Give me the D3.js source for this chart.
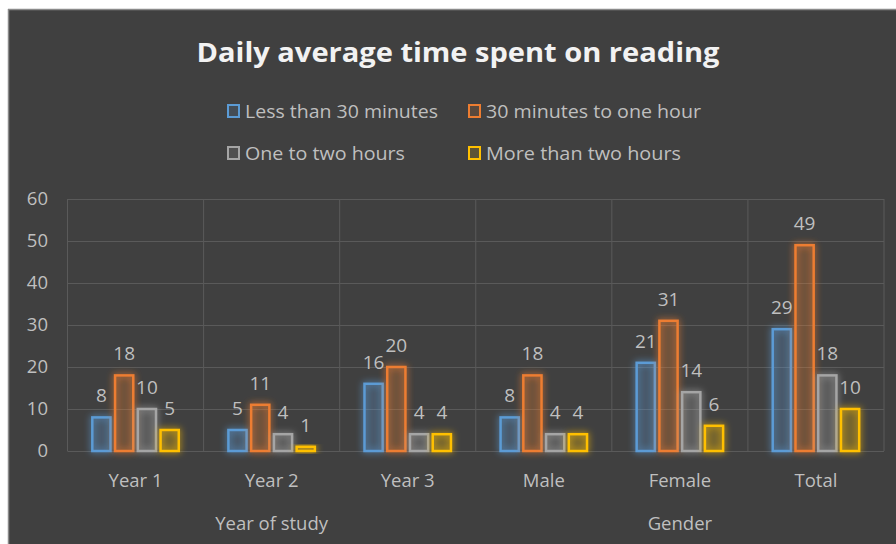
<!DOCTYPE html>
<html><head><meta charset="utf-8">
<script src="https://cdn.jsdelivr.net/npm/d3@7"></script>
<style>
html,body{margin:0;padding:0;background:#fff;}
svg{display:block;}
</style></head>
<body>
<svg id="c" width="896" height="544"></svg>
<script>
const categories = ["Year 1","Year 2","Year 3","Male","Female","Total"];
const groups = [{name:"Year of study", from:0, to:2},{name:"Gender", from:3, to:5}];
const seriesNames = ["Less than 30 minutes","30 minutes to one hour","One to two hours","More than two hours"];
const lessThan30 = [8,5,16,8,21,29];
const thirtyToHour = [18,11,20,18,31,49];
const oneToTwo = [10,4,4,4,14,18];
const moreThanTwo = [5,1,4,4,6,10];
const yTicks = [0,10,20,30,40,50,60];
const colors = ["#5b9bd5","#ed7d31","#a5a5a5","#ffc000"];
const series = [lessThan30, thirtyToHour, oneToTwo, moreThanTwo];

const svg = d3.select("#c");
const font = "'Open Sans', sans-serif";
const txt = "#bfbfbf";

// background frame
svg.append("rect").attr("x",8).attr("y",9).attr("width",888).attr("height",535).attr("fill","#404040");
svg.append("line").attr("x1",8).attr("x2",896).attr("y1",9.5).attr("y2",9.5).attr("stroke","#8a8a8a").attr("stroke-width",1.5);
svg.append("line").attr("x1",8.5).attr("x2",8.5).attr("y1",9).attr("y2",544).attr("stroke","#8a8a8a").attr("stroke-width",1.5);

const defs = svg.append("defs");
const f = defs.append("filter").attr("id","glow").attr("x","-50%").attr("y","-50%").attr("width","200%").attr("height","200%");
f.append("feGaussianBlur").attr("in","SourceGraphic").attr("stdDeviation",3.5).attr("result","b");
const m = f.append("feMerge");
m.append("feMergeNode").attr("in","b");
m.append("feMergeNode").attr("in","SourceGraphic");

const L = 67.5, R = 884, T = 199, B = 451;
const y = d3.scaleLinear().domain([0,60]).range([B,T]);
const x0 = d3.scaleBand().domain(categories).range([L,R]).padding(0);
const bw = x0.bandwidth();
const x1 = d3.scaleBand().domain(d3.range(4)).range([(bw-91)/2,(bw+91)/2]).paddingInner(0.2).paddingOuter(0.1);

// title
svg.append("text").attr("x",458).attr("y",62).attr("text-anchor","middle")
  .attr("font-family",font).attr("font-weight","bold").attr("font-size",26).attr("fill","#f2f2f2")
  .attr("textLength",523).attr("lengthAdjust","spacingAndGlyphs")
  .text("Daily average time spent on reading");

// legend
const legPos = [[227,111],[468,111],[227,153],[468,153]];
const legW = [193,215,160,195];
seriesNames.forEach((n,i)=>{
  const g = svg.append("g").attr("transform",`translate(${legPos[i][0]},${legPos[i][1]})`);
  g.append("rect").attr("x",1).attr("y",-6).attr("width",11).attr("height",12)
    .attr("fill",colors[i]).attr("fill-opacity",0.15).attr("stroke",colors[i]).attr("stroke-width",2);
  g.append("text").attr("x",18).attr("y",6.5).attr("font-family",font).attr("font-size",17.5).attr("fill",txt)
    .attr("textLength",legW[i]).attr("lengthAdjust","spacingAndGlyphs").text(n);
});

// gridlines
svg.append("g").selectAll("line").data(yTicks).join("line")
  .attr("x1",L).attr("x2",R).attr("y1",d=>Math.round(y(d))+0.5).attr("y2",d=>Math.round(y(d))+0.5)
  .attr("stroke","#5a5a5a").attr("stroke-width",1);
const bounds = categories.map(c=>x0(c)).concat([R]);
svg.append("g").selectAll("line").data(bounds).join("line")
  .attr("x1",d=>d).attr("x2",d=>d).attr("y1",T).attr("y2",B)
  .attr("stroke","#5a5a5a").attr("stroke-width",1);

// y axis
const yAxis = d3.axisLeft(y).tickValues(yTicks).tickSize(0).tickPadding(0);
const ya = svg.append("g").attr("transform",`translate(48,0)`).call(yAxis);
ya.select(".domain").remove();
ya.selectAll("text").attr("font-family",font).attr("font-size",18.5).attr("fill",txt);

// x axis (categories)
const xAxis = d3.axisBottom(x0).tickSize(0).tickPadding(0);
const xa = svg.append("g").attr("transform",`translate(0,${B+23})`).call(xAxis);
xa.select(".domain").remove();
xa.selectAll("text").attr("font-family",font).attr("font-size",18.5).attr("fill",txt);

// group labels
svg.append("g").selectAll("text").data(groups).join("text")
  .attr("x",d=>(x0(categories[d.from]) + x0(categories[d.to]) + bw)/2)
  .attr("y",530).attr("text-anchor","middle")
  .attr("font-family",font).attr("font-size",18.5).attr("fill",txt).text(d=>d.name);

// bars
const gCat = svg.append("g").selectAll("g").data(categories).join("g")
  .attr("transform",c=>`translate(${x0(c)},0)`);
series.forEach((s,i)=>{
  gCat.append("rect")
    .attr("x",x1(i)).attr("width",x1.bandwidth())
    .attr("y",(c,j)=>y(s[j])).attr("height",(c,j)=>B - y(s[j]))
    .attr("fill",colors[i]).attr("fill-opacity",0.15)
    .attr("stroke",colors[i]).attr("stroke-width",2.5)
    .attr("filter","url(#glow)");
});
series.forEach((s,i)=>{
  gCat.append("text")
    .attr("x",x1(i)+x1.bandwidth()/2).attr("y",(c,j)=>y(s[j])-15)
    .attr("text-anchor","middle").attr("font-family",font).attr("font-size",19).attr("fill",txt)
    .text((c,j)=>s[j]);
});
</script>
</body></html>
